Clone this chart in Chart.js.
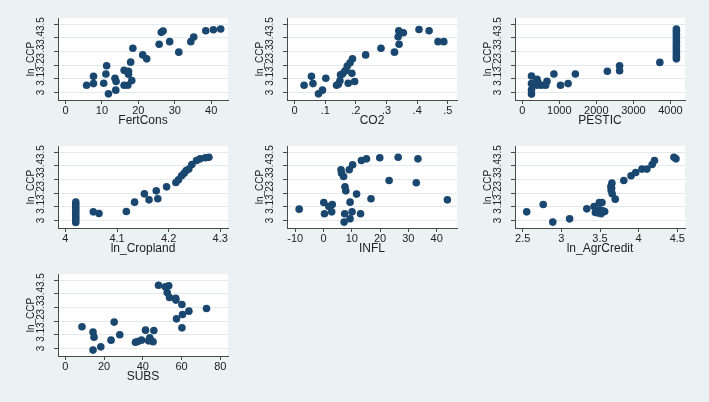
<!DOCTYPE html>
<html><head><meta charset="utf-8">
<script src="https://cdn.jsdelivr.net/npm/chart.js@4"></script>
<style>
html,body{margin:0;padding:0;background:#eaf2f3;width:709px;height:402px;overflow:hidden}
.cell{position:absolute;width:225px;height:123px}
</style></head><body>
<div class="cell" style="left:13px;top:4px"><canvas id="c1" width="225" height="123"></canvas></div>
<div class="cell" style="left:242px;top:4px"><canvas id="c2" width="225" height="123"></canvas></div>
<div class="cell" style="left:470px;top:4px"><canvas id="c3" width="225" height="123"></canvas></div>
<div class="cell" style="left:13px;top:132px"><canvas id="c4" width="225" height="123"></canvas></div>
<div class="cell" style="left:242px;top:132px"><canvas id="c5" width="225" height="123"></canvas></div>
<div class="cell" style="left:470px;top:132px"><canvas id="c6" width="225" height="123"></canvas></div>
<div class="cell" style="left:13px;top:260px"><canvas id="c7" width="225" height="123"></canvas></div>
<script>
// ---- shared y variable ----
const yTitle = 'ln_CCP';
const yTicks = [3, 3.1, 3.2, 3.3, 3.4, 3.5];
const yTickLabels = ['3', '3.1', '3.2', '3.3', '3.4', '3.5'];

// ---- FertCons ----
const fertX = [5.8,7.7,7.7,10.5,11.3,11.1,11.8,13.6,13.9,13.8,16.1,16.1,17.1,17.3,17.3,17.9,18.2,18.5,21.2,22.3,25.7,26.3,26.8,28.6,31.1,34.4,35.2,38.5,40.6,42.6];
const fertY = [3.053,3.118,3.065,3.068,3.196,3.135,2.99,3.104,3.08,3.017,3.053,3.162,3.053,3.155,3.133,3.222,3.087,3.324,3.275,3.246,3.353,3.44,3.449,3.372,3.295,3.372,3.406,3.452,3.459,3.464];
const fertTicks = [0, 10, 20, 30, 40];
const fertTickLabels = ['0', '10', '20', '30', '40'];

// ---- CO2 ----
const co2X = [0.031,0.055,0.06,0.078,0.091,0.102,0.137,0.143,0.148,0.156,0.164,0.172,0.175,0.181,0.187,0.189,0.196,0.232,0.282,0.326,0.338,0.341,0.34,0.355,0.406,0.439,0.468,0.487,0.15,0.168];
const co2Y = [3.053,3.118,3.065,2.99,3.017,3.104,3.053,3.06,3.085,3.135,3.157,3.193,3.068,3.217,3.14,3.246,3.08,3.275,3.324,3.295,3.408,3.353,3.452,3.437,3.461,3.452,3.372,3.372,3.13,3.16];
const co2Ticks = [0, 0.1, 0.2, 0.3, 0.4, 0.5];
const co2TickLabels = ['0', '.1', '.2', '.3', '.4', '.5'];

// ---- PESTIC ----
const pestX = [250,250,250,250,400,427,400,516,632,668,855,1033,1238,1434,2297,2627,2627,3713,4160,4160,4160,4160,4160,4160,4160,4160,4160,4160,4160,4160];
const pestY = [3.121,3.065,3.019,2.988,3.097,3.072,3.053,3.053,3.053,3.082,3.135,3.053,3.065,3.135,3.155,3.159,3.196,3.22,3.246,3.266,3.286,3.306,3.326,3.346,3.366,3.386,3.406,3.426,3.446,3.464];
const pestTicks = [0, 1000, 2000, 3000, 4000];
const pestTickLabels = ['0', '1000', '2000', '3000', '4000'];

// ---- ln_Cropland ----
const cropX = [4.02,4.02,4.02,4.02,4.02,4.02,4.02,4.02,4.02,4.054,4.065,4.118,4.134,4.153,4.162,4.176,4.179,4.196,4.214,4.219,4.225,4.23,4.234,4.239,4.245,4.254,4.261,4.271,4.278];
const cropY = [3.134,3.115,3.095,3.078,3.059,3.039,3.02,3.005,2.985,3.063,3.051,3.066,3.134,3.195,3.151,3.217,3.159,3.246,3.278,3.298,3.327,3.346,3.366,3.376,3.41,3.439,3.451,3.459,3.463];
const cropTicks = [4, 4.1, 4.2, 4.3];
const cropTickLabels = ['4', '4.1', '4.2', '4.3'];

// ---- INFL ----
const inflX = [-8.6,0.1,0.35,1.9,3.1,2.9,6.2,6.4,7.1,7.6,7.9,7.5,7.3,9.1,9.4,9.4,10.1,10.3,11.7,13.1,13.4,15.2,16.8,19.9,23.2,26.4,32.8,33.4,43.8];
const inflY = [3.083,3.132,3.049,3.102,3.117,3.063,3.371,3.346,3.322,3.246,3.217,3.049,2.988,3.371,3.134,3.012,3.063,3.407,3.193,3.049,3.439,3.451,3.159,3.459,3.293,3.463,3.276,3.451,3.151];
const inflTicks = [-10, 0, 10, 20, 30, 40];
const inflTickLabels = ['-10', '0', '10', '20', '30', '40'];

// ---- ln_AgrCredit ----
const agrX = [2.551,2.765,2.889,3.107,3.329,3.423,3.44,3.491,3.526,3.5,3.513,3.56,3.641,3.654,3.645,3.658,3.697,3.808,3.902,3.962,4.043,4.107,4.175,4.205,4.457,4.483,3.47,3.535,3.65];
const agrY = [3.063,3.117,2.988,3.012,3.085,3.102,3.059,3.132,3.132,3.078,3.049,3.066,3.249,3.273,3.22,3.195,3.156,3.293,3.327,3.351,3.376,3.376,3.41,3.439,3.463,3.451,3.056,3.07,3.235];
const agrTicks = [2.5, 3, 3.5, 4, 4.5];
const agrTickLabels = ['2.5', '3', '3.5', '4', '4.5'];

// ---- SUBS ----
const subsX = [8.6,14.3,14.8,14.3,18.3,23.6,25.2,28.1,36.2,37.4,39.3,41.4,43.6,44,43,45.3,45.7,48.1,51.6,53.4,52.6,53.8,57.1,57,60.2,60.5,57.4,60.2,63.8,72.9];
const subsY = [3.159,3.12,3.083,2.988,3.012,3.061,3.193,3.1,3.046,3.051,3.061,3.134,3.078,3.061,3.056,3.049,3.132,3.463,3.451,3.459,3.41,3.373,3.354,3.368,3.322,3.249,3.217,3.151,3.273,3.293];
const subsTicks = [0, 20, 40, 60, 80];
const subsTickLabels = ['0', '20', '40', '60', '80'];

const panels = [
  {id:'c1', title:'FertCons',     xs:fertX, ys:fertY, ticks:fertTicks, labels:fertTickLabels, min:-2.04,  max:44.6},
  {id:'c2', title:'CO2',          xs:co2X,  ys:co2Y,  ticks:co2Ticks,  labels:co2TickLabels,  min:-0.0247,max:0.53},
  {id:'c3', title:'PESTIC',       xs:pestX, ys:pestY, ticks:pestTicks, labels:pestTickLabels, min:-195,   max:4392},
  {id:'c4', title:'ln_Cropland',  xs:cropX, ys:cropY, ticks:cropTicks, labels:cropTickLabels, min:3.9856, max:4.315},
  {id:'c5', title:'INFL',         xs:inflX, ys:inflY, ticks:inflTicks, labels:inflTickLabels, min:-12.9,  max:47.2},
  {id:'c6', title:'ln_AgrCredit', xs:agrX,  ys:agrY,  ticks:agrTicks,  labels:agrTickLabels,  min:2.40,   max:4.60},
  {id:'c7', title:'SUBS',         xs:subsX, ys:subsY, ticks:subsTicks, labels:subsTickLabels, min:-3.8,   max:84}
];

const FONT = "'Liberation Sans', Arial, sans-serif";
const AXIS = '#4a4a4a';
const TXT = '#222';

const plotBg = {
  id: 'plotBg',
  beforeDraw(c) {
    const a = c.chartArea, ctx = c.ctx;
    ctx.save();
    ctx.fillStyle = '#ffffff';
    ctx.fillRect(a.left, a.top, a.right - a.left, a.bottom - a.top);
    ctx.restore();
  }
};

panels.forEach(p => {
  new Chart(document.getElementById(p.id), {
    type: 'scatter',
    data: {
      datasets: [{
        data: p.xs.map((x, i) => ({x: x, y: p.ys[i]})),
        backgroundColor: '#1a476f',
        borderColor: '#1a476f',
        borderWidth: 0,
        pointRadius: 3.8,
        pointHoverRadius: 3.8
      }]
    },
    options: {
      responsive: false,
      animation: false,
      events: [],
      layout: {padding: {top: 14, right: 10, bottom: 0, left: 0}},
      plugins: {legend: {display: false}, tooltip: {enabled: false}},
      scales: {
        x: {
          type: 'linear',
          min: p.min, max: p.max,
          afterBuildTicks: s => { s.ticks = p.ticks.map(v => ({value: v})); },
          afterFit: s => { s.height = 27; },
          ticks: {
            autoSkip: false, minRotation: 0, maxRotation: 0, padding: 1,
            color: TXT, font: {family: FONT, size: 11, lineHeight: 1},
            callback: (v, i) => p.labels[i]
          },
          grid: {drawOnChartArea: false, drawTicks: true, tickLength: 4, tickColor: AXIS, color: AXIS},
          border: {display: true, color: AXIS, width: 1},
          title: {display: true, text: p.title, color: TXT, padding: 0,
                  font: {family: FONT, size: 12, lineHeight: 1}}
        },
        y: {
          type: 'linear',
          min: 2.945, max: 3.545,
          afterBuildTicks: s => { s.ticks = yTicks.map(v => ({value: v})); },
          afterFit: s => { s.width = 45; },
          ticks: {
            autoSkip: false, minRotation: 90, maxRotation: 90, crossAlign: 'center', padding: 6,
            color: TXT, font: {family: FONT, size: 10, lineHeight: 1.2},
            callback: (v, i) => yTickLabels[i]
          },
          grid: {drawOnChartArea: true, drawTicks: true, tickLength: 4, tickColor: AXIS, color: '#e2eaed', lineWidth: 1},
          border: {display: true, color: AXIS, width: 1},
          title: {display: true, text: yTitle, color: TXT, padding: {top: 12.3, bottom: 0},
                  font: {family: FONT, size: 10, lineHeight: 1.2}}
        }
      }
    },
    plugins: [plotBg]
  });
});
</script>
</body></html>
